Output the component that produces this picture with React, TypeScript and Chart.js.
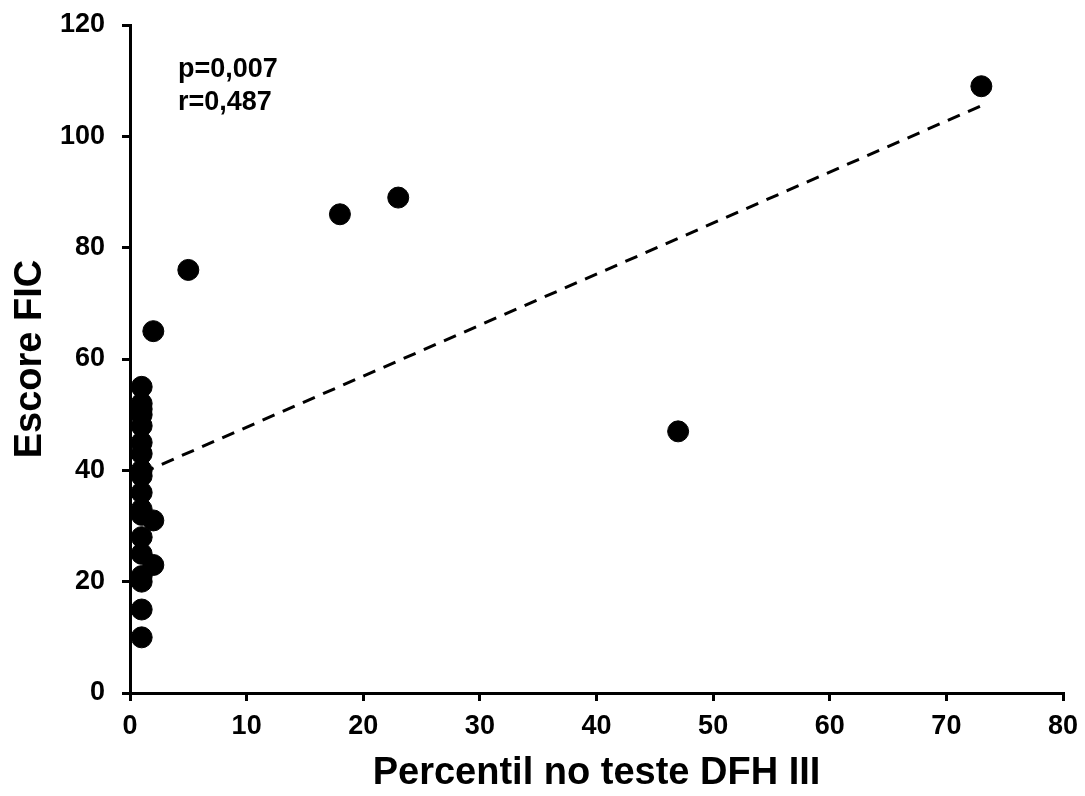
import React, { useEffect, useRef } from "react";
import { Chart, registerables } from "chart.js";

Chart.register(...registerables);

const pointsX = [1, 1, 1, 1, 1, 1, 1, 1, 1, 1, 1, 1, 1, 1, 1, 1, 1, 1, 2, 2, 2, 5, 18, 23, 47, 73];
const pointsY = [55, 52, 51, 50, 48, 45, 43, 40, 39, 36, 33, 32, 28, 25, 21, 20, 15, 10, 31, 23, 65, 76, 86, 89, 47, 109];
const trendX = [1, 73];
const trendY = [39.5, 105.5];
const xTicks = [0, 10, 20, 30, 40, 50, 60, 70, 80];
const yTicks = [0, 20, 40, 60, 80, 100, 120];
const statLines = ["p=0,007", "r=0,487"];

const FONT = "'Liberation Sans', Arial, sans-serif";

export default function App() {
  const ref = useRef<HTMLCanvasElement | null>(null);
  useEffect(() => {
    if (!ref.current) return;
    const textPlugin = {
      id: "statText",
      afterDraw(chart: any) {
        const ctx = chart.ctx;
        ctx.save();
        ctx.fillStyle = "#000";
        ctx.font = `bold 27px ${FONT}`;
        ctx.textBaseline = "middle";
        ctx.textAlign = "left";
        statLines.forEach((t, i) => ctx.fillText(t, 178, 70 + i * 33));
        ctx.restore();
      },
    };
    const chart = new Chart(ref.current, {
      type: "scatter",
      data: {
        datasets: [
          {
            data: pointsX.map((x, i) => ({ x, y: pointsY[i] })),
            backgroundColor: "#000",
            borderColor: "#000",
            pointRadius: 10.5,
            pointHoverRadius: 10.5,
          },
          {
            data: trendX.map((x, i) => ({ x, y: trendY[i] })),
            showLine: true,
            borderColor: "#000",
            borderWidth: 3,
            borderDash: [13, 9],
            pointRadius: 0,
            fill: false,
          } as any,
        ],
      },
      options: {
        responsive: false,
        animation: false,
        layout: { padding: { left: 0, right: 22, top: 25, bottom: 0 } },
        plugins: { legend: { display: false }, tooltip: { enabled: false } },
        scales: {
          x: {
            type: "linear",
            min: 0,
            max: 80,
            afterBuildTicks: (s: any) => {
              s.ticks = xTicks.map((v) => ({ value: v }));
            },
            afterFit: (s: any) => {
              s.height = 103;
              s.paddingLeft = 0;
              s.paddingRight = 0;
            },
            grid: {
              drawOnChartArea: false,
              drawTicks: true,
              tickLength: 8,
              tickColor: "#000",
              lineWidth: 3,
            },
            border: { display: true, color: "#000", width: 3 },
            ticks: {
              color: "#000",
              font: { family: FONT, size: 27, weight: "bold" },
              padding: 9,
              maxRotation: 0,
            },
            title: {
              display: true,
              text: "Percentil no teste DFH III",
              color: "#000",
              font: { family: FONT, size: 38, weight: "bold" },
              padding: { top: 4, bottom: 0 },
            },
          },
          y: {
            type: "linear",
            min: 0,
            max: 120,
            afterBuildTicks: (s: any) => {
              s.ticks = yTicks.map((v) => ({ value: v }));
            },
            afterFit: (s: any) => {
              s.width = 130;
              s.paddingTop = 0;
              s.paddingBottom = 0;
            },
            grid: {
              drawOnChartArea: false,
              drawTicks: true,
              tickLength: 8,
              tickColor: "#000",
              lineWidth: 3,
            },
            border: { display: true, color: "#000", width: 3 },
            ticks: {
              color: "#000",
              font: { family: FONT, size: 27, weight: "bold" },
              padding: 17,
            },
            title: {
              display: true,
              text: "Escore FIC",
              color: "#000",
              font: { family: FONT, size: 38, weight: "bold" },
              padding: { top: 8, bottom: 0 },
            },
          },
        },
      },
      plugins: [textPlugin],
    });
    return () => chart.destroy();
  }, []);
  return (
    <div style={{ position: "absolute", left: 0, top: 0, width: 1085, height: 796, background: "#fff" }}>
      <canvas ref={ref} width={1085} height={796} style={{ width: 1085, height: 796 }} />
    </div>
  );
}
